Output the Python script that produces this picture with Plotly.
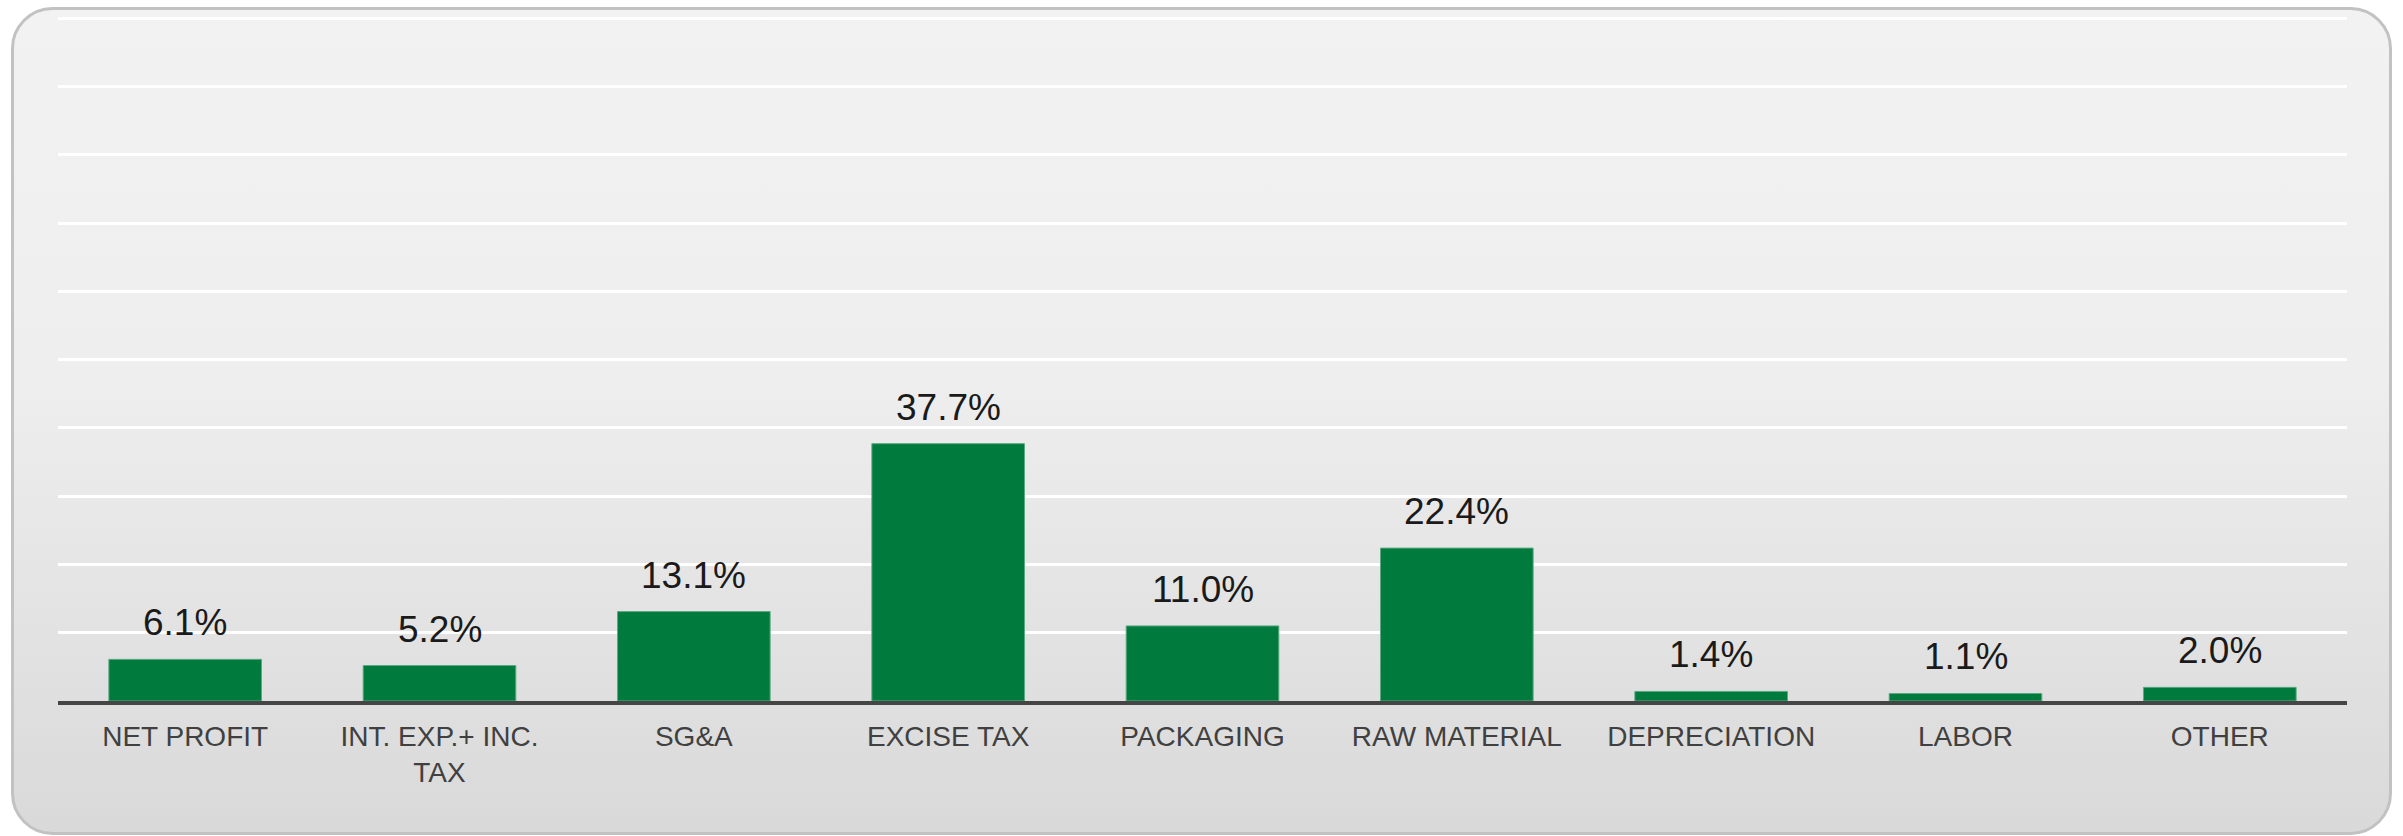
import base64
import plotly.graph_objects as go

# Cost breakdown (share of revenue, %)
categories = ["NET PROFIT", "INT. EXP.+ INC.<br>TAX", "SG&A", "EXCISE TAX", "PACKAGING",
              "RAW MATERIAL", "DEPRECIATION", "LABOR", "OTHER"]
shares = [6.1, 5.2, 13.1, 37.7, 11.0, 22.4, 1.4, 1.1, 2.0]
value_labels = [f"{v:.1f}%" for v in shares]

W, H = 2403, 836
M_L, M_R, M_T, M_B = 58, 56, 15, 135
plot_w = W - M_L - M_R
plot_h = H - M_T - M_B
Y_MAX = 100.5  # a little headroom so the 100 gridline is drawn

# Rounded panel with a soft vertical gradient, used as the chart backdrop
panel_svg = f'''<svg xmlns="http://www.w3.org/2000/svg" width="{W}" height="{H}" viewBox="0 0 {W} {H}">
<defs><linearGradient id="g" x1="0" y1="0" x2="0" y2="1">
<stop offset="0" stop-color="#f2f2f2"/>
<stop offset="0.45" stop-color="#eeeeee"/>
<stop offset="1" stop-color="#d9d9d9"/>
</linearGradient></defs>
<rect x="12.5" y="8.5" width="2378" height="825" rx="40" ry="40" fill="url(#g)" stroke="#c2c2c2" stroke-width="3"/>
</svg>'''
panel_uri = "data:image/svg+xml;base64," + base64.b64encode(panel_svg.encode()).decode()

fig = go.Figure(
    go.Bar(
        x=categories,
        y=shares,
        marker=dict(color="#007a3d", line=dict(color="#5aa982", width=1)),
        hoverinfo="x+y",
    )
)

for cat, v, lab in zip(categories, shares, value_labels):
    fig.add_annotation(
        x=cat, y=v, text=lab, showarrow=False,
        xanchor="center", yanchor="bottom", yshift=14,
        font=dict(family="Liberation Sans, Arial, sans-serif", size=37, color="#1a1a1a"),
    )

fig.add_layout_image(
    source=panel_uri,
    xref="paper", yref="paper",
    x=-M_L / plot_w, y=(plot_h + M_T) / plot_h,
    sizex=W / plot_w, sizey=H / plot_h,
    xanchor="left", yanchor="top",
    sizing="stretch", layer="below",
)

fig.update_layout(
    width=W, height=H,
    margin=dict(l=M_L, r=M_R, t=M_T, b=M_B, pad=0, autoexpand=False),
    paper_bgcolor="white",
    plot_bgcolor="rgba(0,0,0,0)",
    bargap=0.4,
    showlegend=False,
    font=dict(family="Liberation Sans, Arial, sans-serif"),
)
fig.update_xaxes(
    type="category",
    showline=True, linecolor="#454545", linewidth=4,
    ticks="outside", ticklen=7, tickcolor="rgba(0,0,0,0)",
    tickfont=dict(size=28, color="#404040"),
    showgrid=False,
)
fig.update_yaxes(
    range=[0, Y_MAX], tick0=0, dtick=10,
    showticklabels=False,
    gridcolor="white", gridwidth=3,
    zeroline=False,
)

fig.write_html("out.html")
